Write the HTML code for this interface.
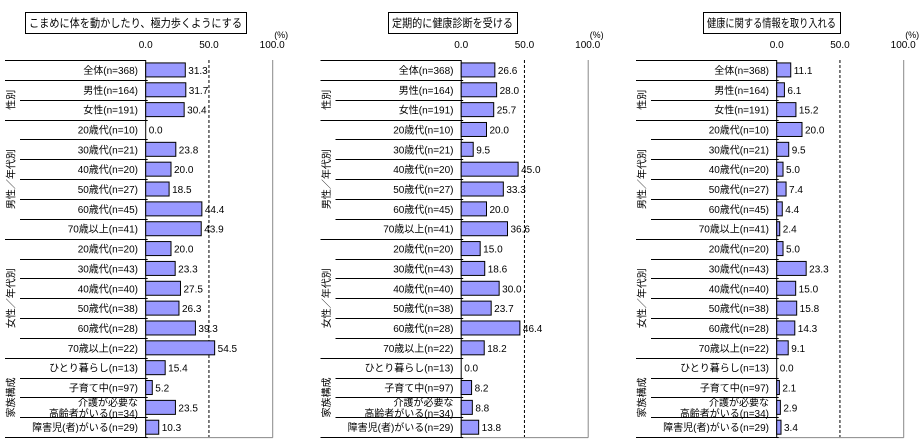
<!DOCTYPE html>
<html><head><meta charset="utf-8">
<style>
html,body{margin:0;padding:0;background:#fff;}
svg{display:block;font-family:"Liberation Sans","Noto Sans CJK JP",sans-serif;}
</style></head>
<body>
<svg id="chart" width="921" height="443" viewBox="0 0 921 443"></svg>
<script>
const categories=["全体(n=368)","男性(n=164)","女性(n=191)","20歳代(n=10)","30歳代(n=21)","40歳代(n=20)","50歳代(n=27)","60歳代(n=45)","70歳以上(n=41)","20歳代(n=20)","30歳代(n=43)","40歳代(n=40)","50歳代(n=38)","60歳代(n=28)","70歳以上(n=22)","ひとり暮らし(n=13)","子育て中(n=97)","介護が必要な|高齢者がいる(n=34)","障害児(者)がいる(n=29)"];
const titles=["こまめに体を動かしたり、極力歩くようにする","定期的に健康診断を受ける","健康に関する情報を取り入れる"];
const series1=[31.3,31.7,30.4,0.0,23.8,20.0,18.5,44.4,43.9,20.0,23.3,27.5,26.3,39.3,54.5,15.4,5.2,23.5,10.3];
const series2=[26.6,28.0,25.7,20.0,9.5,45.0,33.3,20.0,36.6,15.0,18.6,30.0,23.7,46.4,18.2,0.0,8.2,8.8,13.8];
const series3=[11.1,6.1,15.2,20.0,9.5,5.0,7.4,4.4,2.4,5.0,23.3,15.0,15.8,14.3,9.1,0.0,2.1,2.9,3.4];
const tickLabels=["0.0","50.0","100.0"];
const tickValues=[0,50,100];
const groups=[{label:"性別",from:1,to:2},{label:"男性／年代別",from:3,to:8},{label:"女性／年代別",from:9,to:14},{label:"家族構成",from:15,to:18}];
const fullBreaks=[0,2,8,14,18];

const NS="http://www.w3.org/2000/svg";
const svg=document.getElementById('chart');
function mk(tag,attrs,parent){const e=document.createElementNS(NS,tag);for(const k in attrs)e.setAttribute(k,attrs[k]);(parent||svg).appendChild(e);return e;}
const top0=60,rowH=19.85,barH=14;
function yRow(i){return top0+i*rowH;}
const allSeries=[series1,series2,series3];
const offsets=[0,315.5,631];
const titleBoxes=[[25,12,221],[388,12,129],[703,12,137]];
allSeries.forEach((vals,p)=>{
  const off=offsets[p];
  const x0=145.7+off;
  const xs=v=>x0+v*1.265;
  const g=mk('g',{});
  
  
  const tb=titleBoxes[p];
  const r=mk('rect',{x:tb[0]+0.5,y:tb[1]+0.5,width:tb[2],height:21,fill:'#fff',stroke:'#000'},g);
  
  
  const tt=mk('text',{x:tb[0]+4,y:tb[1]+15,'font-size':'11.5',fill:'#000',textLength:tb[2]-8,lengthAdjust:'spacingAndGlyphs'},g);
  tt.textContent=titles[p];
  
  
  tickValues.forEach((v,i)=>{
    const t=mk('text',{x:xs(v),y:48,'font-size':'10','text-anchor':'middle',fill:'#000'},g);
    t.textContent=tickLabels[i];
    
    
  });
  const u=mk('text',{x:xs(100)+2,y:38,'font-size':'9',fill:'#000'},g);
  u.textContent="(%)";
  
  
  mk('line',{x1:xs(50),y1:top0,x2:xs(50),y2:yRow(19),stroke:'#000','stroke-dasharray':'3,2'},g);
  mk('line',{x1:xs(100)+0.5,y1:top0,x2:xs(100)+0.5,y2:yRow(19)+0.5,stroke:'#888'},g);
  mk('line',{x1:x0,y1:yRow(19)+0.5,x2:xs(100)+0.5,y2:yRow(19)+0.5,stroke:'#888'},g);
  mk('line',{x1:x0,y1:top0,x2:x0,y2:yRow(19),stroke:'#000'},g);
  mk('line',{x1:5+off,y1:top0+0.5,x2:x0,y2:top0+0.5,stroke:'#000'},g);
  for(let i=0;i<19;i++){
    const yb=Math.round(yRow(i+1))+0.5;
    const full=fullBreaks.includes(i);
    mk('line',{x1:(full?5:20)+off,y1:yb,x2:x0+2,y2:yb,stroke:'#000'},g);
    const cy=yRow(i)+rowH/2;
    const parts=categories[i].split('|');
    parts.forEach((s,k)=>{
      const t=mk('text',{x:138+off,y:cy+4+(parts.length>1?(k-0.5)*11:0),'font-size':'10','text-anchor':'end',fill:'#000'},g);
      t.textContent=s;
      
      
    });
    const v=vals[i];
    if(v>0){
      const b=mk('rect',{x:x0,y:cy-barH/2,width:xs(v)-x0,height:barH,fill:'#9999ff',stroke:'#000','stroke-width':1},g);
      
      
    }
    const vt=mk('text',{x:xs(v)+3,y:cy+4,'font-size':'10',fill:'#000'},g);
    vt.textContent=v.toFixed(1);
    
    
  }
  groups.forEach(gr=>{
    const cy=(yRow(gr.from)+yRow(gr.to+1))/2;
    const cx=12+off;
    const t=mk('text',{x:cx,y:cy,'font-size':'10','text-anchor':'middle','dominant-baseline':'central',fill:'#000',transform:'rotate(-90 '+cx+' '+cy+')'},g);
    t.textContent=gr.label;
    
    
  });
});
</script>
</body></html>
